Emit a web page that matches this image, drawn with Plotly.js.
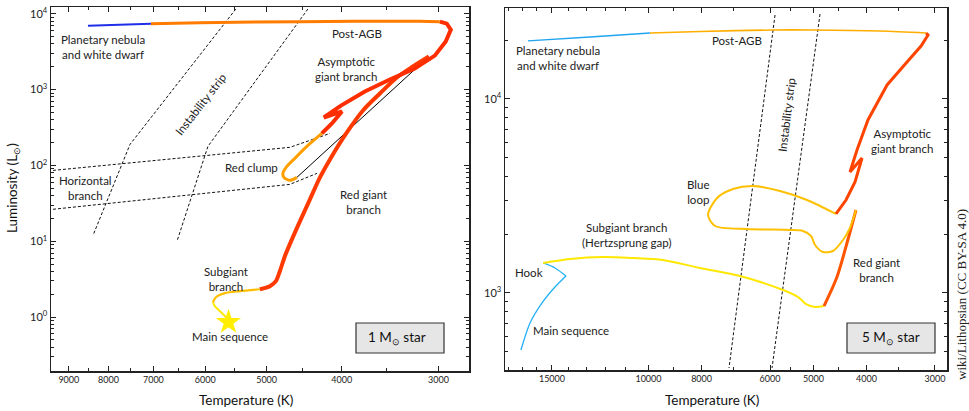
<!DOCTYPE html>
<html><head><meta charset="utf-8">
<script src="https://cdn.plot.ly/plotly-3.0.1.min.js"></script>
<style>html,body{margin:0;padding:0;background:#fff}#g{width:969px;height:411px}</style>
</head><body><div id="g"></div>
<script>
// ---------- 1 solar mass star ----------
const ms1_T=[5600], ms1_L=[0.86];
const sg1a_T=[5590,5710,5832,5866], sg1a_L=[0.91,1.13,1.40,1.57];
const sg1b_T=[5866,5813,5659,5413,5101], sg1b_L=[1.57,1.83,2.07,2.20,2.33];
const rgb1_T=[5101,4951,4864,4807,4736,4638,4529,4396,4267,4142,3939,3755,3571,3395,3237,3087];
const rgb1_L=[2.33,2.56,2.98,4.03,6.36,10.6,18.3,35.7,69.5,120,272,530,886,1440,2010,2720];
const flash1_T=[3087,4570], flash1_L=[2720,69.5];
const rc1_T=[4570,4667,4750,4764,4708,4598,4436,4243], rc1_L=[69.5,63.5,69.5,78.5,97,124,178,264];
const agb1_T=[4243,4118,3997,4218,4009,3734,3467,3219,3033,2936,2892,2927,2988];
const agb1_L=[264,357,514,428,615,942,1356,1888,2800,4290,6160,7380,7850];
const pagb1_T=[2988,3171,4529,6095,7050], pagb1_L=[7850,7960,7850,7620,7380];
const pn1_T=[7050,8503], pn1_L=[7380,6950];
const is1a_T=[5480,7504,8375], is1a_L=[11500,189,12.0];
const is1b_T=[4423,5953,6526], is1b_L=[11500,178,10.0];
const hbU_T=[9433,4667,4142], hbU_L=[85.9,173,264];
const hbL_T=[9433,4667,4305], hbL_L=[26.4,56.2,78.5];
// ---------- 5 solar mass star ----------
const ms5_T=[17090,16450,15650,14810,14140], ms5_L=[508,700,887,1074,1223];
const hook5_T=[14140,14810,15570], hook5_L=[1223,1346,1428];
const sg5_T=[15570,13910,12100,10670,9406,8053,6806,5680,5333,5158,4966,4782];
const sg5_L=[1428,1497,1533,1514,1479,1346,1223,1036,953,877,847,857];
const rgb5_T=[4782,4529,4342,4181], rgb5_L=[857,1209,1810,2678];
const loop5_T=[4181,4288,4416,4606,4803,4966,5050,5223,5515,6608,7557,7785,7495,7010,6445,5753,5135,4548];
const loop5_L=[2678,2163,1876,1646,1627,1768,1967,2087,2112,2137,2214,2523,3089,3436,3561,3355,3015,2554];
const agb5_T=[4548,4360,4198,4076,4288,4163,3976,3669,3374,3181,3089,3115];
const agb5_L=[2554,3015,3734,4965,4205,5458,7795,11810,15510,18760,21380,21890];
const pagb5_T=[3115,3779,5008,5925,8053,9936], pagb5_L=[21890,22410,22680,22680,22280,21890];
const pn5_T=[9936,12790,16590], pn5_L=[21890,20870,19910];
const is5a_T=[5875,7129], is5a_L=[27100,410.6];
const is5b_T=[4863,5950], is5b_L=[27400,410.6];
// ticks
const x1Ticks=[9000,8000,7000,6000,5000,4000,3000];
const x1Minor=[8500,7500,6500,5500,4500,3500];
const x2Ticks=[15000,10000,8000,6000,5000,4000,3000];
const x2Minor=[18000,17000,16000,14000,13000,12000,11000,9000,7000,5500,4500,3500];
const y1Ticks=[1,10,100,1000,10000];
const y1Text=['10<sup>0</sup>','10<sup>1</sup>','10<sup>2</sup>','10<sup>3</sup>','10<sup>4</sup>'];
const y2Ticks=[1000,10000];
const y2Text=['10<sup>3</sup>','10<sup>4</sup>'];

function minorDecades(lo,hi){const v=[];for(let e=lo;e<=hi;e++){for(let m=2;m<=9;m++)v.push(m*Math.pow(10,e));}return v;}

const FONT='Lato, "Open Sans", sans-serif';
function seg(x,y,ax,color,w,shape,dash){
  return {x:x,y:y,xaxis:ax[0],yaxis:ax[1],mode:'lines',hoverinfo:'skip',showlegend:false,
    line:{color:color,width:w,shape:shape||'linear',smoothing:0.8,dash:dash||'solid'}};
}
const A1=['x','y'], A2=['x2','y2'];
const DASH='3px,2px';
const traces=[
  seg(is1a_T,is1a_L,A1,'#111',1,'linear',DASH),
  seg(is1b_T,is1b_L,A1,'#111',1,'linear',DASH),
  seg(hbU_T,hbU_L,A1,'#111',1,'linear',DASH),
  seg(hbL_T,hbL_L,A1,'#111',1,'linear',DASH),
  seg(flash1_T,flash1_L,A1,'#000',1),
  seg(sg1a_T,sg1a_L,A1,'#ffe800',2,'spline'),
  seg(sg1b_T,sg1b_L,A1,'#ffbf00',2.2,'spline'),
  seg(rgb1_T,rgb1_L,A1,'#ff3a00',4,'spline'),
  seg(rc1_T,rc1_L,A1,'#ffa000',3,'spline'),
  seg(agb1_T,agb1_L,A1,'#ff2e00',4,'linear'),
  seg(pagb1_T,pagb1_L,A1,'#ff7c00',3,'spline'),
  seg(pn1_T,pn1_L,A1,'#1f2ee8',2),
  {x:ms1_T,y:ms1_L,xaxis:'x',yaxis:'y',mode:'markers',hoverinfo:'skip',showlegend:false,
   marker:{symbol:'star',size:19,color:'#ffee00',line:{width:0}}},
  seg(is5a_T,is5a_L,A2,'#111',1,'linear',DASH),
  seg(is5b_T,is5b_L,A2,'#111',1,'linear',DASH),
  seg(ms5_T,ms5_L,A2,'#22b0f5',1.3,'spline'),
  seg(hook5_T,hook5_L,A2,'#22b0f5',1.3,'spline'),
  seg(sg5_T,sg5_L,A2,'#ffe800',2,'spline'),
  seg(rgb5_T,rgb5_L,A2,'#ff5500',3,'spline'),
  seg(loop5_T,loop5_L,A2,'#ffc000',2,'spline'),
  seg(agb5_T,agb5_L,A2,'#ff4400',3,'linear'),
  seg(pagb5_T,pagb5_L,A2,'#ffae00',1.6,'spline'),
  seg(pn5_T,pn5_L,A2,'#20a4f0',1.3,'spline')
];

const W=969,H=411;
function A(px,py,text,o){
  return Object.assign({xref:'paper',yref:'paper',x:px/W,y:1-py/H,text:text,showarrow:false,
    xanchor:'center',yanchor:'middle',font:{family:FONT,size:11.5,color:'#222'}},o||{});
}
const ann=[
  A(103,47,'Planetary nebula<br>and white dwarf'),
  A(357,33,'Post-AGB'),
  A(346,69.5,'Asymptotic<br>giant branch'),
  A(200,104,'Instability strip',{textangle:-52}),
  A(251,168,'Red clump'),
  A(85,188,'Horizontal<br>branch'),
  A(363,202,'Red giant<br>branch'),
  A(226,278.5,'Subgiant<br>branch'),
  A(230,336,'Main sequence'),
  A(397,338,'1 M<sub>⊙</sub> star',{font:{family:FONT,size:13.5,color:'#111'}}),
  A(558,58,'Planetary nebula<br>and white dwarf'),
  A(737,40,'Post-AGB'),
  A(786,115,'Instability strip',{textangle:-83}),
  A(902,141,'Asymptotic<br>giant branch'),
  A(698,191.5,'Blue<br>loop'),
  A(627,234.5,'Subgiant branch<br>(Hertzsprung gap)'),
  A(529,272,'Hook'),
  A(876,270,'Red giant<br>branch'),
  A(571,330,'Main sequence'),
  A(891,338,'5 M<sub>⊙</sub> star',{font:{family:FONT,size:13.5,color:'#111'}}),
  A(13,188,'Luminosity (L<sub>⊙</sub>)',{textangle:-90,font:{family:FONT,size:13.5,color:'#111'}}),
  A(246,400,'Temperature (K)',{font:{family:FONT,size:13.5,color:'#111'}}),
  A(712,400,'Temperature (K)',{font:{family:FONT,size:13.5,color:'#111'}}),
  A(961,295,'wiki/Lithopsian (CC BY-SA 4.0)',{textangle:-90,font:{family:'"Liberation Serif", "DejaVu Serif", serif',size:13,color:'#222'}})
];
function box(x0,x1,y0,y1){
  return {type:'rect',xref:'paper',yref:'paper',x0:x0/W,x1:x1/W,y0:1-y1/H,y1:1-y0/H,
    fillcolor:'#e6e6e6',line:{color:'#333',width:1.2},layer:'below'};
}
function xax(domain,range,tv,minor){
  return {domain:domain,type:'log',range:range,autorange:false,tickmode:'array',tickvals:tv,
    ticktext:tv.map(String),ticks:'inside',ticklen:5,tickwidth:1,tickcolor:'#222',
    showline:true,linecolor:'#222',linewidth:1.5,mirror:'ticks',showgrid:false,zeroline:false,
    tickfont:{family:FONT,size:9,color:'#222'},fixedrange:true,
    minor:{tickmode:'array',tickvals:minor,ticks:'inside',ticklen:3,tickwidth:1,tickcolor:'#222',showgrid:false}};
}
function yax(domain,range,tv,tt,minor,anchor){
  return {domain:domain,type:'log',range:range,autorange:false,tickmode:'array',tickvals:tv,ticktext:tt,
    ticks:'inside',ticklen:5,tickwidth:1,tickcolor:'#222',anchor:anchor,
    showline:true,linecolor:'#222',linewidth:1.5,mirror:'ticks',showgrid:false,zeroline:false,
    tickfont:{family:FONT,size:11,color:'#222'},fixedrange:true,
    minor:{tickmode:'array',tickvals:minor,ticks:'inside',ticklen:3,tickwidth:1,tickcolor:'#222',showgrid:false}};
}
const layout={
  width:W,height:H,margin:{l:0,r:0,t:0,b:0},paper_bgcolor:'#fff',plot_bgcolor:'#fff',
  showlegend:false,font:{family:FONT},
  xaxis:Object.assign(xax([51/W,469/W],[Math.log10(9490),Math.log10(2740)],x1Ticks,x1Minor),{anchor:'y'}),
  yaxis:yax([1-371/H,1-7/H],[-0.71,4.088],y1Ticks,y1Text,minorDecades(-1,3),'x'),
  xaxis2:Object.assign(xax([505/W,947/W],[4.2618,3.4552],x2Ticks,x2Minor),{anchor:'y2'}),
  yaxis2:yax([1-370/H,1-8/H],[2.603,4.469],y2Ticks,y2Text,minorDecades(2,4),'x2'),
  annotations:ann,
  shapes:[box(356,444,323,353),box(847,935,323,353)]
};
Plotly.newPlot('g',traces,layout,{staticPlot:true,displayModeBar:false});
</script></body></html>
